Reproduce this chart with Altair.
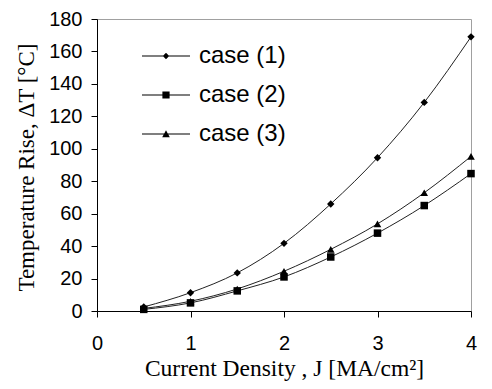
import altair as alt
import pandas as pd

# ---- data ----
J = [0.5, 1.0, 1.5, 2.0, 2.5, 3.0, 3.5, 4.0]
case1 = [2.5, 11.3, 23.5, 41.7, 66.0, 94.5, 128.6, 169.0]
case2 = [1.0, 5.0, 12.4, 21.0, 33.3, 48.0, 65.0, 84.7]
case3 = [1.6, 6.0, 13.6, 24.5, 38.0, 53.7, 72.9, 95.3]
series_names = ["case (1)", "case (2)", "case (3)"]
x_ticks = [0, 1, 2, 3, 4]
y_ticks = [0, 20, 40, 60, 80, 100, 120, 140, 160, 180]

marker_shapes = ["diamond", "square", "triangle-up"]
marker_sizes = [55, 58, 72]
# legend glyphs: a thin line segment with the series marker in the middle
legend_paths = [
    "M-6,-0.13H6V0.13H-6ZM0,-0.8L0.8,0L0,0.8L-0.8,0Z",
    "M-6,-0.13H6V0.13H-6ZM-0.9,-0.9H0.9V0.9H-0.9Z",
    "M-6,-0.13H6V0.13H-6ZM0,-0.95L0.95,0.8H-0.95Z",
]

rows = []
for name, vals in zip(series_names, [case1, case2, case3]):
    for j, v in zip(J, vals):
        rows.append({"J": j, "dT": v, "case": name})
df = pd.DataFrame(rows)

x = alt.X(
    "J:Q",
    scale=alt.Scale(domain=[0, 4], nice=False, zero=False),
    axis=alt.Axis(
        values=x_ticks,
        title="Current Density , J [MA/cm²]",
        titleFontSize=23.5,
        labelFlush=False,
        labelOverlap=False,
        labelBaseline="alphabetic",
        labelPadding=32,
        titleBaseline="alphabetic",
        titleY=64,
    ),
)
y = alt.Y(
    "dT:Q",
    scale=alt.Scale(domain=[0, 180], nice=False),
    axis=alt.Axis(
        values=y_ticks,
        title="Temperature Rise, ΔT [°C]",
        labelPadding=9,
        labelOverlap=False,
        titleAngle=270,
        titleBaseline="alphabetic",
        titleAlign="center",
        titleX=-64,
        titleY=148,
    ),
)

base = alt.Chart(df)

lines = base.mark_line(interpolate="monotone", color="#222222", strokeWidth=1).encode(
    x=x, y=y, detail="case:N"
)

points = base.mark_point(filled=True, color="black", opacity=1).encode(
    x=x,
    y=y,
    shape=alt.Shape("case:N", scale=alt.Scale(domain=series_names, range=marker_shapes), legend=None),
    size=alt.Size("case:N", scale=alt.Scale(domain=series_names, range=marker_sizes), legend=None),
)

legend_layer = base.mark_point(filled=True, color="black", opacity=0).encode(
    x=x,
    y=y,
    shape=alt.Shape(
        "case:N",
        scale=alt.Scale(domain=series_names, range=legend_paths),
        legend=alt.Legend(
            title=None,
            orient="none",
            legendX=57,
            legendY=25,
            padding=0,
            symbolSize=64,
            symbolStrokeWidth=0,
            symbolFillColor="black",
            symbolOpacity=1,
            labelFont="Liberation Sans",
            labelFontSize=24,
            labelColor="black",
            labelOffset=21,
            labelLimit=400,
            rowPadding=15,
        ),
    ),
)

chart = (
    alt.layer(lines, points, legend_layer)
    .resolve_scale(shape="independent")
    .properties(
        width=374,
        height=292,
        autosize=alt.AutoSizeParams(type="none"),
        padding={"left": 89, "top": 11, "right": 10, "bottom": 70},
    )
    .configure_view(stroke="#a0a0a0", strokeWidth=1)
    .configure_axis(
        grid=False,
        labelFont="Liberation Sans",
        labelFontSize=20,
        labelColor="black",
        titleFont="Liberation Serif",
        titleFontSize=23,
        titleFontWeight="normal",
        titleColor="black",
        domainColor="black",
        domainWidth=1,
        tickColor="black",
        tickSize=6,
        tickWidth=1,
    )
)

chart.save("out.html", embed_options={"renderer": "svg", "actions": False})
